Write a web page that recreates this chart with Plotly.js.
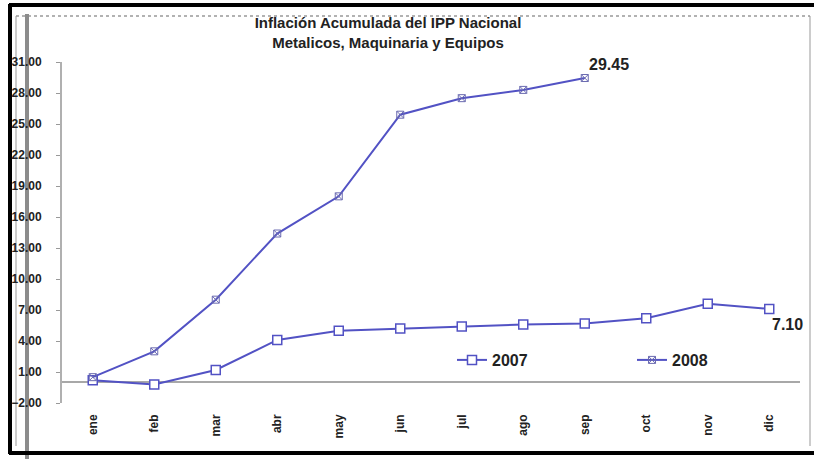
<!DOCTYPE html>
<html>
<head>
<meta charset="utf-8">
<script src="https://cdn.plot.ly/plotly-3.0.1.min.js"></script>
<style>
  html, body { margin: 0; padding: 0; background: #fff; }
  #chart { width: 814px; height: 459px; }
</style>
</head>
<body>
<div id="chart"></div>
<script>
'use strict';

/* global Plotly */

// Meses
const months = ['ene', 'feb', 'mar', 'abr', 'may', 'jun', 'jul', 'ago', 'sep', 'oct', 'nov', 'dic'];

// Inflación acumulada (%)
const values2007 = [0.2, -0.2, 1.2, 4.1, 5.0, 5.2, 5.4, 5.6, 5.7, 6.2, 7.6, 7.10];
const values2008 = [0.5, 3.0, 8.0, 14.4, 18.0, 25.9, 27.5, 28.3, 29.45];

const yTicks = [-2, 1, 4, 7, 10, 13, 16, 19, 22, 25, 28, 31];

const W = 814;
const H = 459;
const margin = {l: 62, r: 14, t: 62, b: 56};
const plotW = W - margin.l - margin.r;
const plotH = H - margin.t - margin.b;

// pixel -> paper helpers for the frame decorations
const px = x => (x - margin.l) / plotW;
const py = y => (H - margin.b - y) / plotH;

const lineColor = '#5252c4';
const fontFamily = 'Liberation Sans, Arial, sans-serif';
const textFont = {family: fontFamily, size: 12, color: '#222', weight: 'bold'};
const bigFont = {family: fontFamily, size: 16, color: '#222', weight: 'bold'};

const trace2007 = {
  x: months,
  y: values2007,
  name: '2007',
  legend: 'legend',
  type: 'scatter',
  mode: 'lines+markers',
  line: {color: lineColor, width: 2},
  marker: {symbol: 'square', size: 9, color: '#fff', line: {color: lineColor, width: 1.5}},
};

const trace2008 = {
  x: months.slice(0, values2008.length),
  y: values2008,
  name: '2008',
  legend: 'legend2',
  type: 'scatter',
  mode: 'lines+markers',
  line: {color: lineColor, width: 2},
  marker: {symbol: 'square-x-open', size: 7, color: '#6a6ab0', line: {width: 1}},
};

const last2007 = values2007.length - 1;
const last2008 = values2008.length - 1;

function legendAt(xPixel) {
  return {
    orientation: 'h',
    x: px(xPixel),
    xanchor: 'left',
    y: py(360),
    yanchor: 'middle',
    itemwidth: 30,
    bgcolor: 'rgba(0,0,0,0)',
    font: bigFont,
  };
}

function frameLine(x0, y0, x1, y1, color, width, dash) {
  return {
    type: 'line', xref: 'paper', yref: 'paper', layer: 'below',
    x0: px(x0), x1: px(x1), y0: py(y0), y1: py(y1),
    line: {color: color, width: width, dash: dash || 'solid'},
  };
}

const layout = {
  width: W,
  height: H,
  margin: margin,
  paper_bgcolor: '#fff',
  plot_bgcolor: '#fff',
  showlegend: true,
  title: {
    text: 'Inflación Acumulada del IPP Nacional<br>Metalicos, Maquinaria y Equipos',
    font: {family: fontFamily, size: 15, color: '#222', weight: 'bold'},
    x: 388 / W,
    xanchor: 'center',
    y: 1 - 28 / H,
    yanchor: 'middle',
  },
  xaxis: {
    type: 'category',
    range: [-0.5, 11.5],
    showline: false,
    showgrid: false,
    zeroline: false,
    ticks: '',
    tickangle: -90,
    ticklabelstandoff: 8,
    tickfont: textFont,
  },
  yaxis: {
    range: [-2, 31],
    tickvals: yTicks,
    tickformat: '.2f',
    ticks: 'outside',
    ticklen: 4,
    tickcolor: '#999',
    ticklabelstandoff: 12,
    showline: true,
    linecolor: '#b0b0b0',
    linewidth: 2,
    showgrid: false,
    zeroline: true,
    zerolinecolor: '#a8a8a8',
    zerolinewidth: 2,
    tickfont: textFont,
  },
  legend: legendAt(452),
  legend2: legendAt(632),
  annotations: [
    {
      x: months[last2008], y: values2008[last2008],
      text: values2008[last2008].toFixed(2),
      showarrow: false, xanchor: 'center', yanchor: 'bottom',
      xshift: 24, yshift: 3,
      font: bigFont,
    },
    {
      x: months[last2007], y: values2007[last2007],
      text: values2007[last2007].toFixed(2),
      showarrow: false, xanchor: 'center', yanchor: 'top',
      xshift: 18, yshift: -5,
      font: bigFont,
    },
  ],
  shapes: [
    // inner grey frame
    frameLine(16, 16, 810, 16, '#999', 1.5, 'dot'),
    frameLine(810, 16, 810, 446, '#999', 1),
    frameLine(16, 16, 16, 446, '#999', 1),
    // grey vertical band on the left
    frameLine(27, 14, 27, 459, '#8c8c8c', 4),
    // black outer frame
    frameLine(9, 5, 814, 5, '#000', 4),
    frameLine(10, 4, 10, 454, '#000', 4),
    frameLine(9, 453, 814, 453, '#000', 4),
  ],
};

Plotly.newPlot('chart', [trace2007, trace2008], layout, {displayModeBar: false, staticPlot: true});
</script>
</body>
</html>
